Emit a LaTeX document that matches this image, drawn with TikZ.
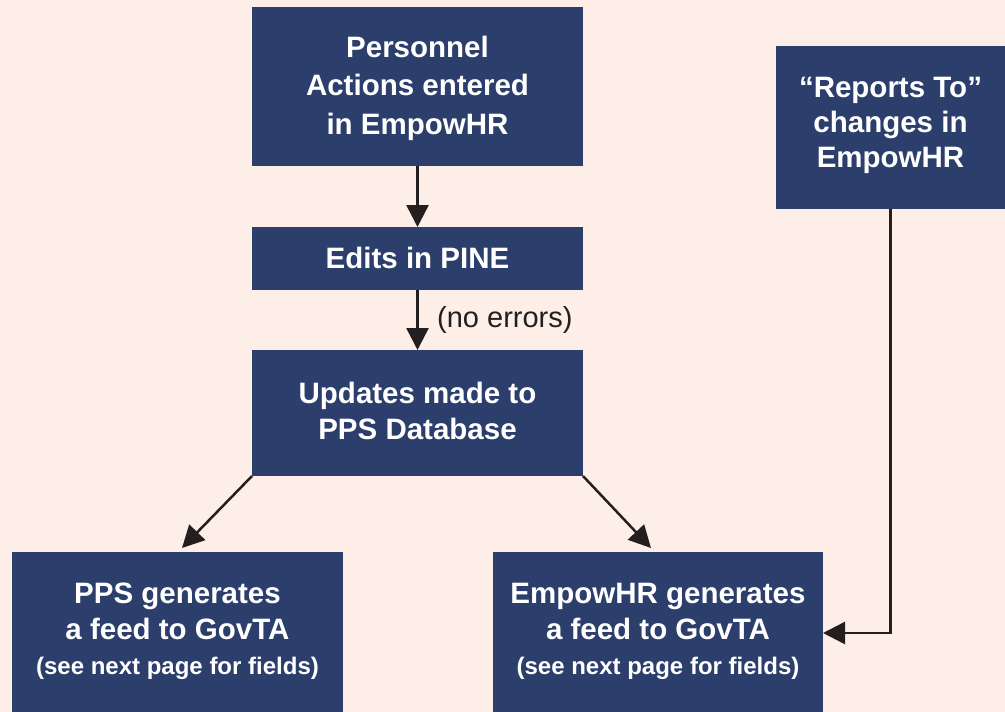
\documentclass[tikz,border=0pt]{standalone}
\usepackage{fontspec}
\setmainfont{Liberation Sans}
\usetikzlibrary{arrows.meta,calc}
\definecolor{bgc}{RGB}{253,238,232}
\definecolor{boxc}{RGB}{44,62,107}
\definecolor{arrc}{RGB}{35,31,32}
\begin{document}
\begin{tikzpicture}[x=1pt,y=-1pt,
  flowbox/.style={fill=boxc, draw=none, inner sep=0pt, outer sep=0pt},
  boxtext/.style={text=white, font=\bfseries\fontsize{29.5}{38.5}\selectfont, align=center, inner sep=0pt},
  flowarrow/.style={draw=arrc, line width=2.5pt, -{Triangle[length=22pt,width=22pt]}},
  note/.style={text=arrc, font=\fontsize{29}{34}\selectfont, inner sep=0pt, anchor=west}]
\useasboundingbox[fill=bgc] (0,0) rectangle (1005,712);
% boxes
\node[flowbox, minimum width=331pt, minimum height=159pt] (b1) at (417.5,86.5) {};
\node[boxtext] (t1) at (417.5,88) {Personnel\\Actions entered\\in EmpowHR};
\node[flowbox, minimum width=331pt, minimum height=63pt] (b2) at (417.5,258.5) {};
\node[boxtext] (t2) at (417.5,258) {Edits in PINE};
\node[flowbox, minimum width=331pt, minimum height=126pt] (b3) at (417.5,413) {};
\node[boxtext, font=\bfseries\fontsize{29.5}{36}\selectfont] (t3) at (417.5,411) {Updates made to\\PPS Database};
\node[flowbox, minimum width=331pt, minimum height=162pt] (b4) at (177.5,633) {};
\node[boxtext, font=\bfseries\fontsize{29.5}{35.5}\selectfont] (t4) at (177.5,631.5) {PPS generates\\a feed to GovTA\\{\bfseries\fontsize{24}{36}\selectfont (see next page for fields)}};
\node[flowbox, minimum width=330pt, minimum height=162pt] (b5) at (658,633) {};
\node[boxtext, font=\bfseries\fontsize{29.5}{35.5}\selectfont] (t5) at (658,631.5) {EmpowHR generates\\a feed to GovTA\\{\bfseries\fontsize{24}{36}\selectfont (see next page for fields)}};
\node[flowbox, minimum width=229pt, minimum height=163pt] (b6) at (890.5,127.5) {};
\node[boxtext, font=\bfseries\fontsize{29.5}{35}\selectfont] (t6) at (890.5,125.5) {“Reports To”\\changes in\\EmpowHR};
% connectors
\coordinate (e4) at ($(b4.north)+(4.5,-4)$);
\coordinate (e5) at ($(b5.north)+(-7,-4)$);
\draw[flowarrow] (b1.south) -- (b2.north);
\draw[flowarrow] (b2.south) -- (b3.north);
\node[note] (ne) at (437,320) {(no errors)};
\draw[flowarrow] (b3.south west) -- (e4);
\draw[flowarrow] (b3.south east) -- (e5);
\draw[flowarrow] (b6.south) |- (b5.east);
\end{tikzpicture}
\end{document}
